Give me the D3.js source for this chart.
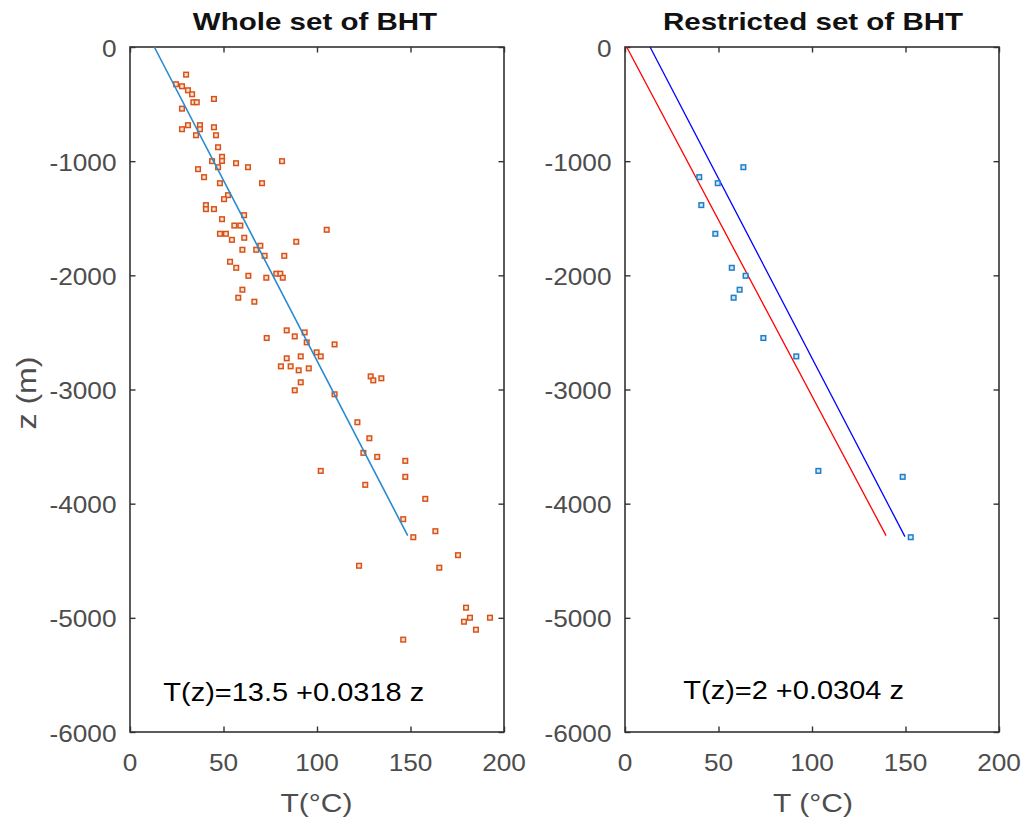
<!DOCTYPE html>
<html>
<head>
<meta charset="utf-8">
<script src="https://cdn.jsdelivr.net/npm/d3@7"></script>
<style>
  html, body { margin: 0; padding: 0; background: #fff; }
  svg { display: block; }
</style>
</head>
<body>
<svg id="chart" width="1025" height="821"></svg>
<script>
// ---------------- DATA ----------------
const xTicks = [0, 50, 100, 150, 200];
const yTicks = [0, -1000, -2000, -3000, -4000, -5000, -6000];

// Whole set of BHT : temperature (°C) and depth z (m)
const wholeT = [30, 24.6, 27.8, 31, 33.2, 33.9, 35.7, 44.9, 27.8, 27.8, 31, 37.4, 37.4, 35.3, 44.9, 46, 47.1,
  43.9, 49.2, 49.2, 47.1, 56.7, 63.1, 81.3, 36.4, 39.6, 48.1, 70.6, 52.4, 50.3, 40.6, 40.6, 44.9, 61, 49.2,
  55.8, 59, 48.1, 51.3, 54.5, 61.1, 105.2, 88.9, 60.1, 67.5, 69.7, 72, 82.5, 53.5, 56.8, 63.3, 72.9, 78.2,
  80.4, 81.7, 60.1, 57.9, 66.5, 83.8, 93.4, 88.1, 73.1, 94.5, 109.4, 99.8, 102, 91.3, 83.8, 80.7, 85.9,
  90.2, 95.6, 91.3, 88.1, 109.4, 128.7, 130.1, 134.4, 121.6, 128, 124.8, 132.2, 147.2, 147.2, 102, 125.8,
  157.9, 146.1, 151.5, 163.3, 175.4, 165.4, 122.5, 179.7, 181.8, 178.6, 192.5, 185, 146.1];
const wholeZ = [-242, -326, -344, -379, -414, -484, -484, -455, -540, -720, -685, -685, -720, -773, -703, -773, -878,
  -1000, -962, -998, -1053, -1018, -1053, -1000, -1070, -1140, -1193, -1193, -1298, -1333, -1385, -1420, -1420, -1473, -1508,
  -1564, -1564, -1636, -1636, -1689, -1671, -1601, -1706, -1776, -1776, -1741, -1829, -1829, -1881, -1934, -2004, -2021, -1986,
  -1986, -2021, -2126, -2196, -2231, -2482, -2500, -2535, -2549, -2587, -2605, -2675, -2710, -2710, -2727, -2797, -2797,
  -2832, -2815, -2937, -3007, -3042, -2885, -2920, -2902, -3287, -3427, -3555, -3590, -3625, -3765, -3713, -3835,
  -3958, -4136, -4294, -4241, -4451, -4561, -4544, -4911, -4999, -5034, -4999, -5104, -5191];

// Restricted set of BHT
const restrictedT = [63.3, 39.7, 49.6, 40.8, 48.3, 57.1, 64.5, 61.3, 58.1, 74, 91.6, 103.4, 148.5, 152.8];
const restrictedZ = [-1053, -1140, -1193, -1385, -1636, -1934, -2004, -2126, -2196, -2549, -2710, -3713, -3765, -4294];

// Fitted lines (end points: [T, z])
const wholeFitT = [13, 148.5];
const wholeFitZ = [0, -4280];
const restrictedFitBlueT = [13.4, 149.7];
const restrictedFitBlueZ = [0, -4289];
const restrictedFitRedT = [0.9, 139.6];
const restrictedFitRedZ = [0, -4280];

const titles = ["Whole set of BHT", "Restricted set of BHT"];
const xLabels = ["T(°C)", "T (°C)"];
const yLabel = "z (m)";
const equations = ["T(z)=13.5 +0.0318 z", "T(z)=2 +0.0304 z"];

// ---------------- DRAWING ----------------
const svg = d3.select("#chart");
const FONT = "'Liberation Sans', Arial, Helvetica, sans-serif";
const AXIS_COLOR = "#333333";
const LABEL_COLOR = "#4d4d4d";

function txt(parent, x, y, str, o) {
  o = o || {};
  const sx = o.sx || 1;
  const rot = o.rotate || 0;
  return parent.append("text")
    .attr("transform", `translate(${x},${y}) rotate(${rot}) scale(${sx},1)`)
    .attr("x", 0).attr("y", 0)
    .attr("text-anchor", o.anchor || "start")
    .attr("font-family", FONT)
    .attr("font-size", o.size || 23)
    .attr("font-weight", o.weight || "normal")
    .attr("fill", o.fill || LABEL_COLOR)
    .text(str);
}

const panels = [
  { x0: 130, x1: 504 },
  { x0: 625, x1: 999 }
];
const yTop = 47, yBot = 732;

function makePanel(p, idx) {
  const x = d3.scaleLinear().domain([0, 200]).range([p.x0, p.x1]);
  const y = d3.scaleLinear().domain([0, -6000]).range([yTop, yBot]);
  const g = svg.append("g");

  // inward ticks on all four sides
  const tk = 5.5;
  g.append("g").attr("transform", `translate(0,${yBot})`)
    .call(d3.axisBottom(x).tickValues(xTicks).tickSizeInner(-tk).tickSizeOuter(0).tickFormat(""));
  g.append("g").attr("transform", `translate(0,${yTop})`)
    .call(d3.axisTop(x).tickValues(xTicks).tickSizeInner(-tk).tickSizeOuter(0).tickFormat(""));
  g.append("g").attr("transform", `translate(${p.x0},0)`)
    .call(d3.axisLeft(y).tickValues(yTicks).tickSizeInner(-tk).tickSizeOuter(0).tickFormat(""));
  g.append("g").attr("transform", `translate(${p.x1},0)`)
    .call(d3.axisRight(y).tickValues(yTicks).tickSizeInner(-tk).tickSizeOuter(0).tickFormat(""));
  g.selectAll(".domain").remove();
  g.selectAll(".tick line").attr("stroke", AXIS_COLOR).attr("stroke-width", 1.4);

  // box
  g.append("rect")
    .attr("x", p.x0).attr("y", yTop)
    .attr("width", p.x1 - p.x0).attr("height", yBot - yTop)
    .attr("fill", "none").attr("stroke", AXIS_COLOR).attr("stroke-width", 1.6);

  // tick labels
  xTicks.forEach(t => txt(g, x(t), 771, String(t), { anchor: "middle", size: 23, sx: 1.14 }));
  yTicks.forEach(t => txt(g, p.x0 - 13.5, y(t) + 9.5, String(t), { anchor: "end", size: 23, sx: 1.14 }));

  // title, axis label
  txt(g, idx === 0 ? 315 : 813, 30, titles[idx], { anchor: "middle", size: 24, weight: "bold", sx: 1.23, fill: "#111" });
  txt(g, idx === 0 ? 316.5 : 813, 812, xLabels[idx], { anchor: "middle", size: 25, sx: 1.2 });

  return { g, x, y };
}

const L = makePanel(panels[0], 0);
const R = makePanel(panels[1], 1);

// y label
txt(svg, 36, 393, yLabel, { anchor: "middle", size: 27, sx: 1.19, rotate: -90 });

// ---- Left panel marks ----
const lineGen = (px, py) => d3.line().x(d => px(d[0])).y(d => py(d[1]));

const wholePts = wholeT.map((t, i) => [t, wholeZ[i]]);
L.g.append("g").selectAll("rect").data(wholePts).join("rect")
  .attr("x", d => L.x(d[0]) - 2.3).attr("y", d => L.y(d[1]) - 2.3)
  .attr("width", 4.6).attr("height", 4.6)
  .attr("fill", "#fbe3d6").attr("stroke", "#D95319").attr("stroke-width", 1.5);

L.g.append("path")
  .datum(wholeFitT.map((t, i) => [t, wholeFitZ[i]]))
  .attr("d", lineGen(L.x, L.y))
  .attr("fill", "none").attr("stroke", "#2a8ad0").attr("stroke-width", 1.6);

txt(L.g, 163.3, 701, equations[0], { size: 26, sx: 1.115, fill: "#000" });

// ---- Right panel marks ----
R.g.append("path")
  .datum(restrictedFitRedT.map((t, i) => [t, restrictedFitRedZ[i]]))
  .attr("d", lineGen(R.x, R.y))
  .attr("fill", "none").attr("stroke", "#ff0000").attr("stroke-width", 1.3);
R.g.append("path")
  .datum(restrictedFitBlueT.map((t, i) => [t, restrictedFitBlueZ[i]]))
  .attr("d", lineGen(R.x, R.y))
  .attr("fill", "none").attr("stroke", "#0000ff").attr("stroke-width", 1.3);

const restPts = restrictedT.map((t, i) => [t, restrictedZ[i]]);
R.g.append("g").selectAll("rect").data(restPts).join("rect")
  .attr("x", d => R.x(d[0]) - 2.3).attr("y", d => R.y(d[1]) - 2.3)
  .attr("width", 4.6).attr("height", 4.6)
  .attr("fill", "#d6e8f6").attr("stroke", "#1f7fc8").attr("stroke-width", 1.5);

txt(R.g, 683.3, 699, equations[1], { size: 26, sx: 1.115, fill: "#000" });
</script>
</body>
</html>
